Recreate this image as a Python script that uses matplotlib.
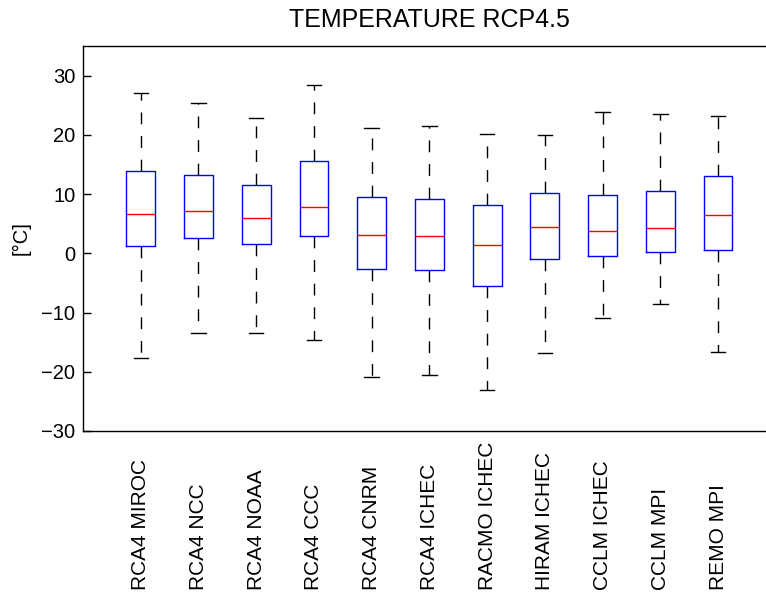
import matplotlib
matplotlib.use("Agg")
import matplotlib.pyplot as plt

# model runs
labels = ['RCA4 MIROC', 'RCA4 NCC', 'RCA4 NOAA', 'RCA4 CCC', 'RCA4 CNRM', 'RCA4 ICHEC',
          'RACMO ICHEC', 'HIRAM ICHEC', 'CCLM ICHEC', 'CCLM MPI', 'REMO MPI']

# box statistics [°C]
whislo = [-17.6, -13.4, -13.4, -14.6, -20.9, -20.6, -23.1, -16.8, -11.0, -8.6, -16.6]
q1 = [1.3, 2.6, 1.5, 3.0, -2.7, -2.8, -5.6, -1.0, -0.45, 0.3, 0.5]
med = [6.7, 7.2, 6.0, 7.9, 3.1, 3.0, 1.35, 4.5, 3.8, 4.2, 6.4]
q3 = [13.95, 13.3, 11.5, 15.6, 9.5, 9.2, 8.2, 10.1, 9.9, 10.5, 13.0]
whishi = [27.1, 25.3, 22.9, 28.5, 21.1, 21.5, 20.2, 19.9, 23.9, 23.5, 23.2]

plt.rcParams['font.family'] = ['Liberation Sans', 'DejaVu Sans']

stats = []
for i in range(len(labels)):
    stats.append({'label': labels[i], 'whislo': whislo[i], 'q1': q1[i], 'med': med[i],
                  'q3': q3[i], 'whishi': whishi[i], 'fliers': []})

fig = plt.figure(figsize=(7.66, 6.02), dpi=100)
# axes runs past the right edge of the picture, as in the original
ax = fig.add_axes([83 / 766, 171 / 602, 692.8 / 766, 385 / 602])

positions = list(range(1, len(labels) + 1))
ax.bxp(stats, positions=positions, widths=0.5, showfliers=False,
       boxprops=dict(color='blue', linewidth=1.0),
       medianprops=dict(color='red', linewidth=1.0),
       whiskerprops=dict(color='black', linewidth=1.0, linestyle=(0, (8.5, 8.5))),
       capprops=dict(color='black', linewidth=1.0),
       capwidths=0.25)

ax.set_xlim(0, 12)
ax.set_ylim(-30, 35)
ax.set_yticks([-30, -20, -10, 0, 10, 20, 30])
ax.set_yticklabels(['\u221230', '\u221220', '\u221210', '0', '10', '20', '30'])
ax.set_xticks([])
ax.tick_params(axis='y', direction='in', length=6, labelsize=14.5, width=1.0, pad=5.5)
for s in ax.spines.values():
    s.set_linewidth(1.0)

for p, lab in zip(positions, labels):
    ax.text(p, -0.413, lab, rotation=90, ha='center', va='bottom', fontsize=15,
            transform=ax.get_xaxis_transform())

ax.set_ylabel('[°C]', fontsize=14.5)
ax.yaxis.set_label_coords(-0.075, 0.5)
fig.text(429.4 / 766, 1 - 27 / 602, 'TEMPERATURE RCP4.5', ha='center', va='baseline', fontsize=18)

fig.savefig('out.png', dpi=100)
